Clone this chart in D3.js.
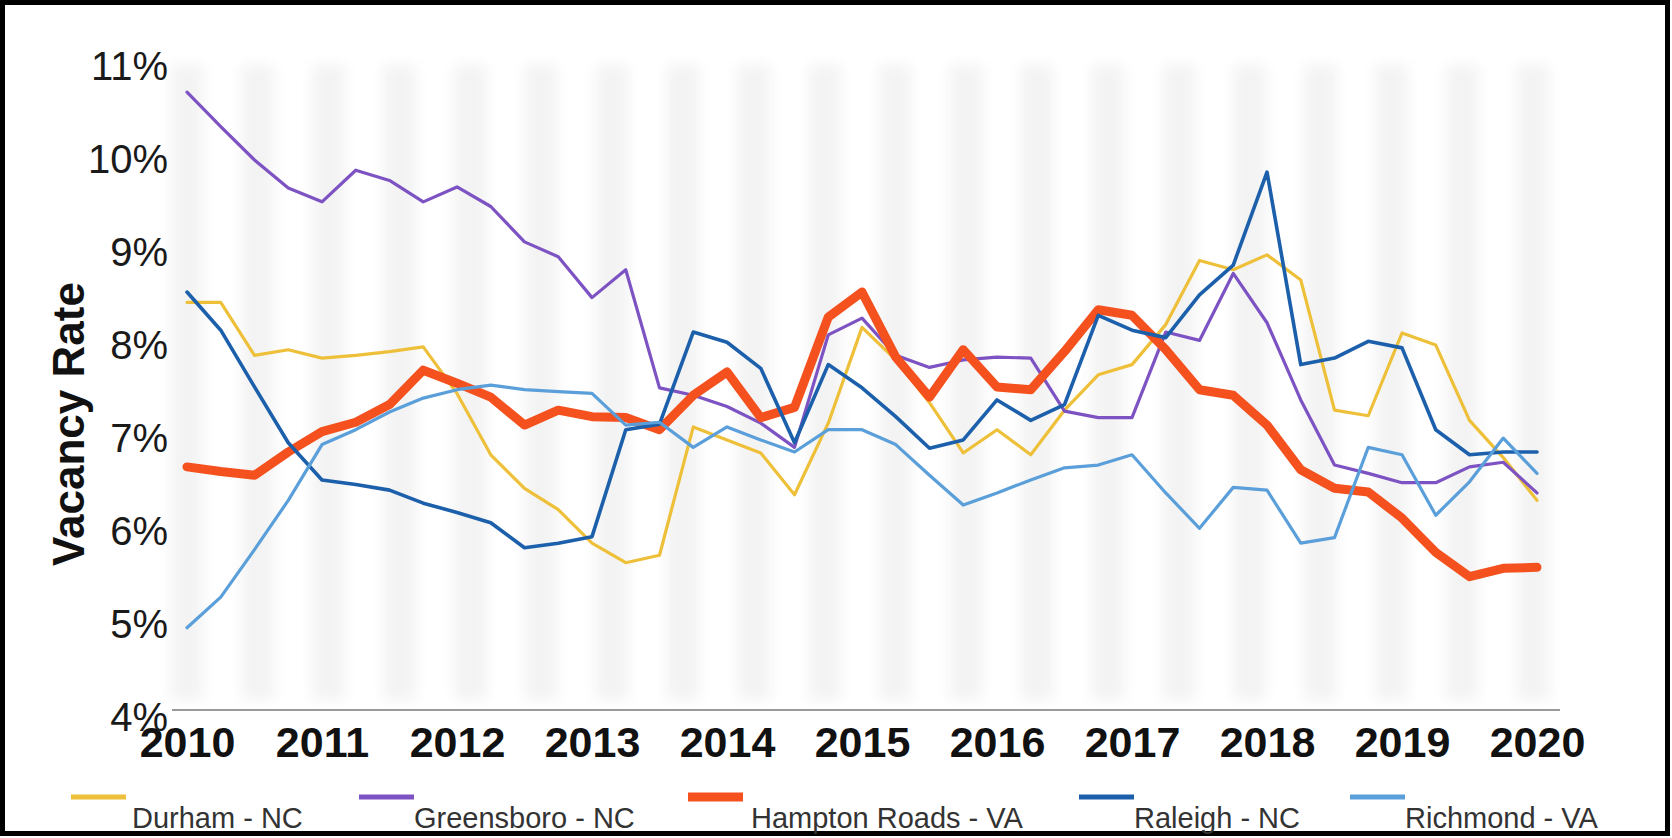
<!DOCTYPE html>
<html>
<head>
<meta charset="utf-8">
<script src="https://cdn.jsdelivr.net/npm/d3@7"></script>
<style>
  html, body { margin: 0; padding: 0; background: #fff; }
  svg { display: block; }
  text { font-family: "Liberation Sans", Arial, sans-serif; }
</style>
</head>
<body>
<svg id="chart" width="1672" height="838"></svg>
<script>
// ---- data ----
const quarters = [
  "2010 Q1","2010 Q2","2010 Q3","2010 Q4",
  "2011 Q1","2011 Q2","2011 Q3","2011 Q4",
  "2012 Q1","2012 Q2","2012 Q3","2012 Q4",
  "2013 Q1","2013 Q2","2013 Q3","2013 Q4",
  "2014 Q1","2014 Q2","2014 Q3","2014 Q4",
  "2015 Q1","2015 Q2","2015 Q3","2015 Q4",
  "2016 Q1","2016 Q2","2016 Q3","2016 Q4",
  "2017 Q1","2017 Q2","2017 Q3","2017 Q4",
  "2018 Q1","2018 Q2","2018 Q3","2018 Q4",
  "2019 Q1","2019 Q2","2019 Q3","2019 Q4",
  "2020 Q1"
];
const yearTicks = ["2010 Q1","2011 Q1","2012 Q1","2013 Q1","2014 Q1","2015 Q1","2016 Q1","2017 Q1","2018 Q1","2019 Q1","2020 Q1"];
const yTicks = [4, 5, 6, 7, 8, 9, 10, 11];

const durham = [8.47, 8.47, 7.90, 7.96, 7.87, 7.90, 7.94, 7.99, 7.49, 6.83, 6.47, 6.24, 5.88, 5.67, 5.75, 7.13, 6.99, 6.85, 6.40, 7.17, 8.20, 7.85, 7.39, 6.85, 7.10, 6.83, 7.31, 7.69, 7.80, 8.23, 8.92, 8.82, 8.98, 8.71, 7.31, 7.25, 8.14, 8.01, 7.20, 6.80, 6.34];
const greensboro = [10.73, 10.36, 10.00, 9.70, 9.55, 9.89, 9.78, 9.55, 9.71, 9.50, 9.12, 8.96, 8.52, 8.82, 7.55, 7.47, 7.35, 7.17, 6.91, 8.12, 8.30, 7.90, 7.77, 7.85, 7.88, 7.87, 7.30, 7.23, 7.23, 8.15, 8.06, 8.78, 8.25, 7.42, 6.72, 6.63, 6.53, 6.53, 6.70, 6.75, 6.42];
const hampton = [6.70, 6.65, 6.61, 6.86, 7.08, 7.18, 7.37, 7.74, 7.60, 7.45, 7.15, 7.31, 7.24, 7.23, 7.10, 7.47, 7.72, 7.23, 7.34, 8.31, 8.58, 7.88, 7.45, 7.96, 7.56, 7.53, 7.94, 8.39, 8.33, 7.96, 7.53, 7.47, 7.15, 6.67, 6.47, 6.43, 6.15, 5.78, 5.52, 5.61, 5.62];
const raleigh = [8.58, 8.17, 7.56, 6.96, 6.56, 6.51, 6.45, 6.31, 6.21, 6.10, 5.83, 5.88, 5.95, 7.10, 7.16, 8.15, 8.04, 7.76, 6.96, 7.80, 7.55, 7.24, 6.90, 6.99, 7.42, 7.20, 7.37, 8.33, 8.17, 8.09, 8.55, 8.87, 9.87, 7.80, 7.87, 8.05, 7.98, 7.10, 6.83, 6.86, 6.86];
const richmond = [4.97, 5.30, 5.81, 6.34, 6.94, 7.10, 7.29, 7.44, 7.53, 7.58, 7.53, 7.51, 7.49, 7.15, 7.18, 6.91, 7.13, 6.99, 6.86, 7.10, 7.10, 6.94, 6.61, 6.29, 6.42, 6.56, 6.69, 6.72, 6.83, 6.42, 6.04, 6.48, 6.45, 5.88, 5.94, 6.91, 6.83, 6.18, 6.54, 7.01, 6.63];

const seriesNames = ["Durham - NC", "Greensboro - NC", "Hampton Roads - VA", "Raleigh - NC", "Richmond - VA"];
const seriesValues = [durham, greensboro, hampton, raleigh, richmond];

// ---- styles / layout ----
const colors = ["#eec03a", "#7d52c2", "#f4511e", "#1c5fab", "#5a9fda"];
const widths = [3.2, 3.2, 9, 3.6, 3.2];
const legendLineX = [71, 359, 688, 1079, 1350];
const legendTextX = [132, 414, 751, 1134, 1405];

const svg = d3.select("#chart");

// frame
svg.append("rect").attr("x", 2.5).attr("y", 2.5).attr("width", 1665).attr("height", 831)
  .attr("fill", "#fff").attr("stroke", "#000").attr("stroke-width", 5);

const x = d3.scalePoint().domain(quarters).range([187, 1537]);
const y = d3.scaleLinear().domain([4, 11]).range([718, 67]);

// blurred faint background stripes
const defs = svg.append("defs");
defs.append("filter").attr("id", "blur").attr("x", "-50%").attr("width", "200%")
  .attr("y", "-10%").attr("height", "120%")
  .append("feGaussianBlur").attr("stdDeviation", 7);
const stripeIdx = d3.range(20);
const xs = d3.scaleLinear().domain([0, 19]).range([187, 1533]);
svg.append("g").attr("filter", "url(#blur)")
  .selectAll("rect").data(stripeIdx).join("rect")
  .attr("x", d => xs(d) - 16).attr("width", 32)
  .attr("y", y(11) - 2).attr("height", 710 - (y(11) - 2) - 10)
  .attr("fill", "#f3f3f3");

// x axis
const xAxis = svg.append("g").attr("transform", "translate(0,710)")
  .call(d3.axisBottom(x).tickValues(yearTicks).tickFormat(d => d.slice(0, 4)).tickSize(0).tickPadding(16));
xAxis.select(".domain").remove();
xAxis.selectAll("text").attr("font-size", 43).attr("font-weight", "bold").attr("fill", "#111")
  .style("font-family", '"Liberation Sans", Arial, sans-serif');
svg.append("line")
  .attr("x1", x(quarters[0]) - 15).attr("x2", x(quarters[quarters.length - 1]) + 23)
  .attr("y1", 710).attr("y2", 710).attr("stroke", "#9a9a9a").attr("stroke-width", 2);

// y axis
const yAxis = svg.append("g").attr("transform", "translate(171,0)")
  .call(d3.axisLeft(y).tickValues(yTicks).tickFormat(d => d + "%").tickSize(0).tickPadding(3));
yAxis.select(".domain").remove();
yAxis.selectAll("text").attr("font-size", 40).attr("fill", "#1a1a1a")
  .style("font-family", '"Liberation Sans", Arial, sans-serif');

// y title
svg.append("text").attr("transform", "translate(84,424) rotate(-90)")
  .attr("text-anchor", "middle").attr("font-size", 44).attr("font-weight", "bold").attr("fill", "#111")
  .text("Vacancy Rate");

// lines
const line = d3.line().x((d, i) => x(quarters[i])).y(d => y(d));
svg.append("g").selectAll("path").data(seriesValues).join("path")
  .attr("d", d => line(d))
  .attr("fill", "none")
  .attr("stroke", (d, i) => colors[i])
  .attr("stroke-width", (d, i) => widths[i])
  .attr("stroke-linejoin", "round")
  .attr("stroke-linecap", "round");

// legend
const lg = svg.append("g");
seriesNames.forEach((name, i) => {
  lg.append("line").attr("x1", legendLineX[i]).attr("x2", legendLineX[i] + 55)
    .attr("y1", 797).attr("y2", 797)
    .attr("stroke", colors[i]).attr("stroke-width", i === 2 ? 9 : 5);
  lg.append("text").attr("x", legendTextX[i]).attr("y", 828)
    .attr("font-size", 29).attr("fill", "#333").text(name);
});
</script>
</body>
</html>
